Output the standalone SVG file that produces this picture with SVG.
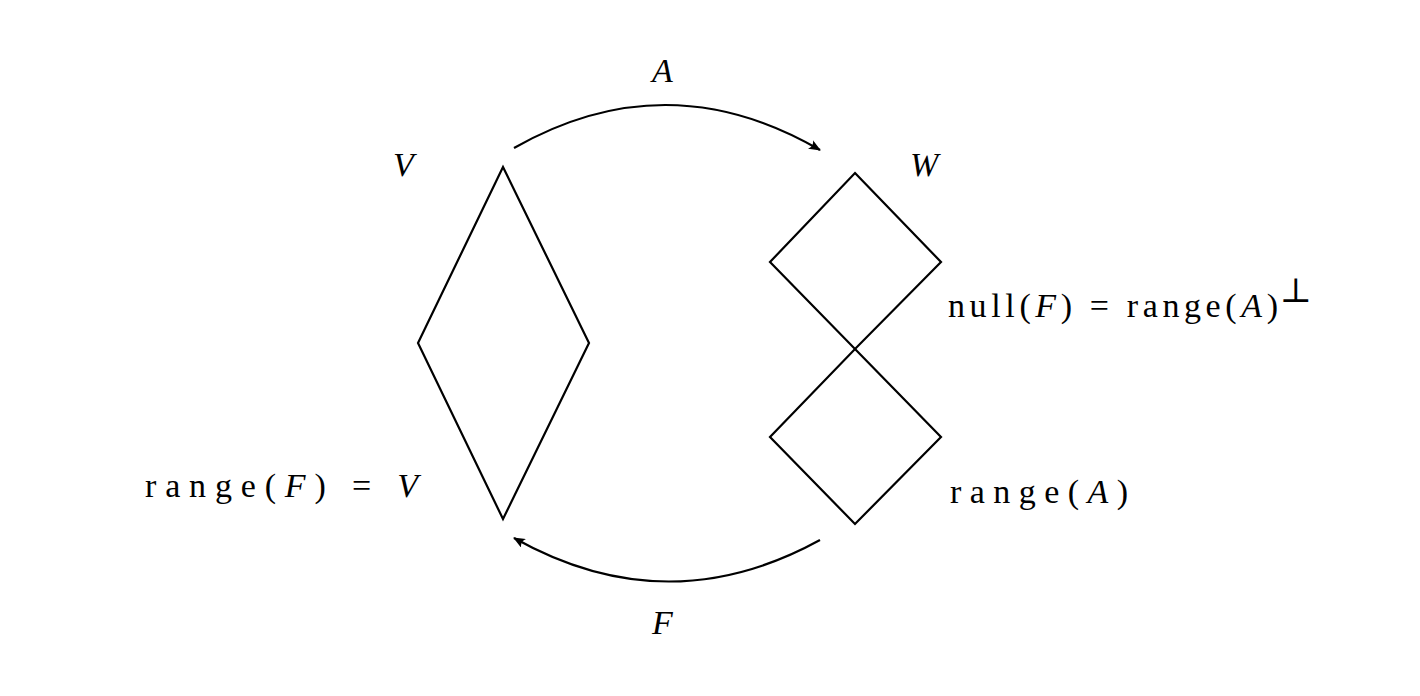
<svg xmlns="http://www.w3.org/2000/svg" width="1420" height="696" viewBox="0 0 1420 696">
<style>
.s{fill:none;stroke:#000;stroke-width:2.2;stroke-linejoin:miter}
.c{fill:none;stroke:#000;stroke-width:2.2}
text{font-family:"Liberation Serif","DejaVu Serif",serif;font-size:34px;fill:#000}
.i{font-style:italic}
</style>
<defs><marker id="ar" viewBox="0 0 12 10" refX="11" refY="5" markerWidth="12" markerHeight="10" markerUnits="userSpaceOnUse" orient="auto"><path d="M0,0 Q4,5 0,10 L12,5 Z" fill="#000"/></marker></defs>
<rect width="1420" height="696" fill="#fff"/>
<g id="V"><polygon class="s" points="503,167 589,343 503,519 418,343"/><text x="393" y="176" class="i">V</text><text x="145" y="497" textLength="273" lengthAdjust="spacing">range(<tspan class="i">F</tspan>) = <tspan class="i">V</tspan></text></g>
<g id="Wtop"><polygon class="s" points="855,173 941,262 855,349 770,262"/><text x="910" y="176" class="i">W</text><text x="948" y="317" font-size="31" textLength="330" lengthAdjust="spacing">null(<tspan class="i">F</tspan>) = range(<tspan class="i">A</tspan>)</text><text x="1280" y="302" font-size="22">⊥</text></g>
<g id="Wbot"><polygon class="s" points="855,349 941,437 855,524 770,437"/><text x="950" y="503" textLength="178" lengthAdjust="spacing">range(<tspan class="i">A</tspan>)</text></g>
<g id="connectors">
<path class="c" d="M514,148 Q667,61 820,150" marker-end="url(#ar)"/>
<path class="c" d="M820,540 Q667,624 514,538" marker-end="url(#ar)"/>
<text x="652" y="82" class="i">A</text>
<text x="652" y="634" class="i">F</text>
</g>
</svg>
